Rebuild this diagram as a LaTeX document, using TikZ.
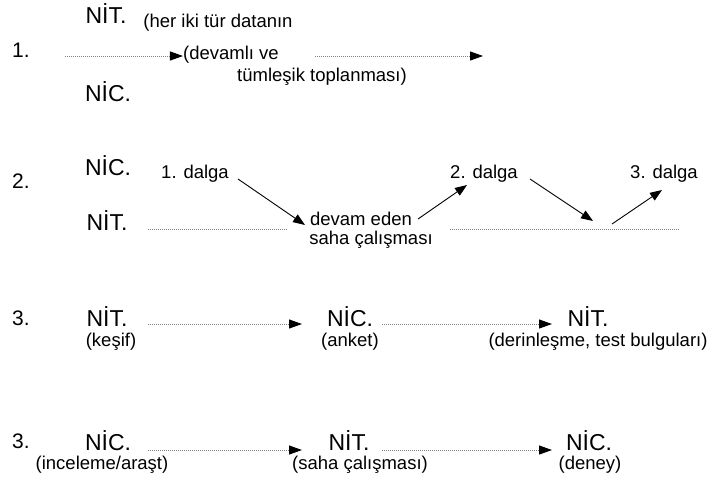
\documentclass[tikz,border=0pt]{standalone}
\usepackage{fontspec}
\setmainfont{Liberation Sans}
\usetikzlibrary{arrows.meta}
\tikzset{
  big/.style={inner sep=0pt, anchor=base, font=\fontsize{23}{27}\selectfont},
  num/.style={inner sep=0pt, anchor=base, font=\fontsize{21}{25}\selectfont},
  small/.style={inner sep=0pt, font=\fontsize{18.5}{22}\selectfont},
  dotline/.style={draw=black!50, line width=1pt, dash pattern=on 1pt off 1pt},
  dotarrow/.style={dotline, -{Triangle[length=13pt,width=9pt,color=black,fill=black]}},
  solidarrow/.style={draw=black, line width=0.9pt, -{Triangle[length=12pt,width=9pt]}}
}
\begin{document}
\begin{tikzpicture}[x=1pt,y=-1pt]
\useasboundingbox (0,0) rectangle (709,483);
% Row 1
\node[num] (n1) at (21,57) {1.};
\node[big] (r1nit) at (106,23) {NİT.};
\node[big] (r1nic) at (108,101) {NİC.};
\node[small] (r1a) at (218,23) {(her iki tür datanın};
\node[small] (r1b) at (231,55) {(devamlı ve};
\node[small] (r1c) at (322,77) {tümleşik toplanması)};
\coordinate (r1s1) at (65,56);
\coordinate (r1s2) at (315,56);
\coordinate (r1e2) at (483,56);
\draw[dotarrow] (r1s1) -- (r1b.west |- r1s1);
\draw[dotarrow] (r1s2) -- (r1e2);
% Row 2
\node[num] (n2) at (21,188) {2.};
\node[big] (r2nic) at (108,175) {NİC.};
\node[big] (r2nit) at (107,230) {NİT.};
\node[small] (d1) at (195,174) {1. dalga};
\node[small] (d2) at (484,174) {2. dalga};
\node[small] (d3) at (664,174) {3. dalga};
\node[small] (dev) at (361,219) {devam eden};
\node[small] (saha) at (371,240) {saha çalışması};
\coordinate (l1a) at (148,229);
\coordinate (l1b) at (288,229);
\coordinate (l2a) at (450,229);
\coordinate (l2b) at (680,229);
\coordinate (low) at (593,221);
\coordinate (lowb) at (612,224);
\draw[dotline] (l1a) -- (l1b);
\draw[dotline] (l2a) -- (l2b);
\draw[solidarrow] ([shift={(43,5)}]d1.center) -- ([shift={(-56,6)}]dev.center);
\draw[solidarrow] ([shift={(57,0)}]dev.center) -- ([shift={(-17,11)}]d2.center);
\draw[solidarrow] ([shift={(46,5)}]d2.center) -- (low);
\draw[solidarrow] (lowb) -- ([shift={(-2,16)}]d3.center);
% Row 3
\node[num] (n3) at (21,325) {3.};
\node[big] (r3a) at (107,326) {NİT.};
\node[small] (r3as) at (111,342) {(keşif)};
\node[big] (r3b) at (350,326) {NİC.};
\node[small] (r3bs) at (350,342) {(anket)};
\node[big] (r3c) at (588,326) {NİT.};
\node[small] (r3cs) at (598,342) {(derinleşme, test bulguları)};
\coordinate (y3) at (0,324);
\draw[dotarrow] (148,324) -- (302,324);
\draw[dotarrow] (382,324) -- (552,324);
% Row 4
\node[num] (n4) at (21,448) {3.};
\node[big] (r4a) at (108,450) {NİC.};
\node[small] (r4as) at (102,465) {(inceleme/araşt)};
\node[big] (r4b) at (349,450) {NİT.};
\node[small] (r4bs) at (360,465) {(saha çalışması)};
\node[big] (r4c) at (589,450) {NİC.};
\node[small] (r4cs) at (590,465) {(deney)};
\draw[dotarrow] (148,450) -- (302,450);
\draw[dotarrow] (382,450) -- (552,450);
\end{tikzpicture}
\end{document}
